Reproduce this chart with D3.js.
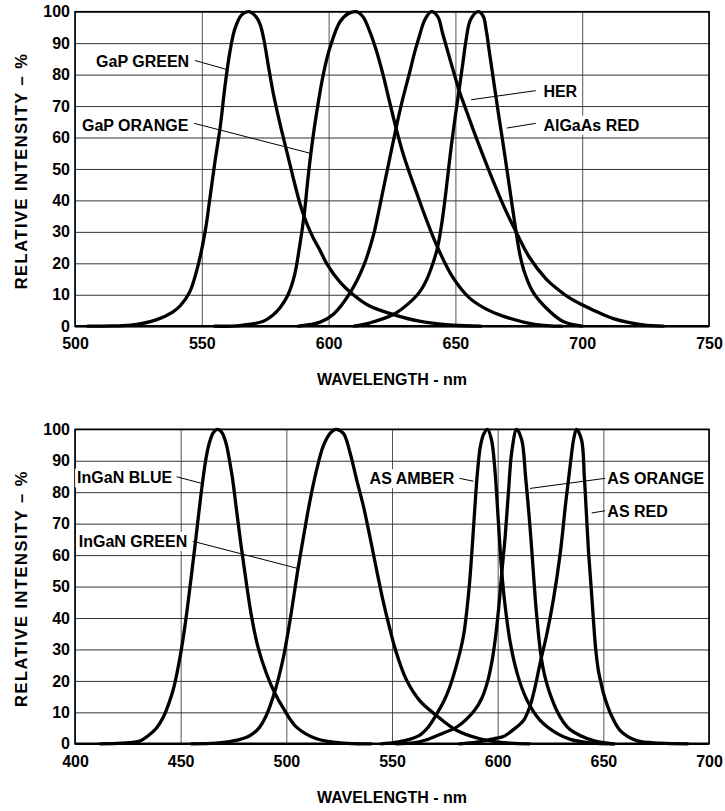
<!DOCTYPE html>
<html>
<head>
<meta charset="utf-8">
<script src="https://cdn.jsdelivr.net/npm/d3@7"></script>
<style>
  body { margin: 0; background: #fff; }
  text { font-family: "Liberation Sans", Arial, Helvetica, sans-serif; font-weight: bold; fill: #000; }
</style>
</head>
<body>
<svg id="chart" width="725" height="811"></svg>
<script>
// tick values
var yTicks = [0, 10, 20, 30, 40, 50, 60, 70, 80, 90, 100];
var topTicks = [500, 550, 600, 650, 700, 750];
var bottomTicks = [400, 450, 500, 550, 600, 650, 700];

// spectra: [wavelength nm, relative intensity %]
var gapGreen = [[505,0],[515,0.1],[523,0.4],[532,2],[538.5,4.5],[541.5,6.5],[545.3,11],[548.6,19.6],[551.3,30],[553.2,40.7],[555.2,52.4],[557.2,63],[559.2,76.7],[561.1,87.3],[563.1,94.7],[565.7,99],[568.4,100],[571.2,98.6],[573,96],[574.5,91],[576.2,83],[578.2,74],[580.8,64.5],[583.5,55.6],[586.1,47],[588.7,39],[590.3,35],[592,31.5],[594,28],[596.7,24],[599.2,20],[604.5,14],[609,10.5],[616,6.5],[625.6,3.7],[635.8,1.6],[649,0.3],[660,0]];
var gapOrange = [[555,0],[565,0.2],[574.3,1.6],[578,3.5],[581,6],[584,10],[586.5,16],[588.5,25],[590.3,35],[592,48],[593.5,58],[595.3,68],[597.9,80],[600.5,88.5],[604.5,96.8],[608,99.5],[611,100],[613.5,98.5],[616.1,94],[618.7,88],[621.3,80.5],[624,71.5],[626.6,63],[629.5,54.5],[632,48.5],[634,44],[638.5,34],[643,25],[649,15.5],[655.5,9],[662,5.5],[668.7,3.2],[681.8,0.5],[692,0]];
var her = [[588,0],[596.7,1.3],[602,3.9],[608.5,10.7],[613.8,19.2],[617.7,29],[619.5,35.5],[621.3,42.5],[624,53],[626.6,63],[629.3,72.5],[631.9,80.5],[634,87.3],[635.8,92.3],[638,97.5],[640.5,100],[643,98.5],[645,93],[648,84.5],[651.6,74.6],[654.2,68.8],[656.8,63],[660.8,54.5],[666,44],[670,36.5],[673.9,30],[679.1,22],[685.8,15],[690,12],[695,9],[700,6.8],[704.4,5.1],[712.3,2.4],[724,0.4],[732,0]];
var algaasRed = [[610,0],[616,1],[625.5,3.7],[633,8.3],[636,11],[638.5,14.5],[640.5,18.5],[642.8,24.5],[644.5,32],[646,41],[647.3,50],[648.5,58],[650,67],[651.6,76],[653,84],[654.2,91],[656,97.5],[659,100],[661,98.5],[662.1,94.4],[663.4,87.2],[664.7,80],[666,72.9],[667.3,65.8],[668.7,58.6],[670,51.5],[671.3,44.4],[672.6,37.2],[673.9,30.2],[675.5,22.5],[677.5,16.5],[680.5,11],[685.8,5.8],[692.3,1.6],[700,0]];

var inganBlue = [[412,0],[422,0.2],[430.7,0.9],[434.9,2.7],[438.6,5],[441.8,8.5],[444.5,13],[446.8,18],[450,28.7],[452.4,39.3],[454.8,52],[457.1,64.8],[459.5,78.6],[461.8,90],[463.5,95.5],[465.5,99],[467.5,100],[469.5,99],[471.5,95.5],[473,90.5],[474.5,84.5],[476.3,75],[478.6,63],[481,51.5],[483.4,41],[486.5,31],[490.5,22.5],[494.4,16.3],[498.4,11.5],[504.8,5.3],[514.3,1.6],[527,0.2],[540,0]];
var inganGreen = [[455,0],[466.7,0.2],[474.8,0.9],[482.5,2.5],[487,5],[490.5,9],[494.4,16.3],[498.4,26.8],[501.6,38.6],[504,49],[505.6,56],[507.9,65],[511.1,77],[514.3,87],[517.5,94.7],[520.7,98.7],[523.5,100],[527,98.7],[530.2,92.4],[533.3,83.9],[536.5,75.5],[539.5,66],[542.4,56.3],[545.6,46],[548.7,37.3],[551.9,29.3],[556.7,20.5],[563,13.8],[571,9],[580.5,4.3],[591.6,1.6],[605.9,0.2],[615,0]];
var asAmber = [[545,0],[548.7,0.2],[556,1],[563,2.7],[567,5.2],[571,9.3],[574.5,13.5],[577.3,18],[582.1,29],[584,35],[585.5,43],[586.8,52],[588,63],[589.2,75],[590.4,86],[591.8,94.5],[593.4,98.5],[595.2,100],[597.1,96.6],[598.7,87],[600.3,71],[601.9,55],[603.5,44],[606,32],[609.4,22],[613.8,14],[620,7.5],[628,3.3],[634.4,1.4],[645,0.2],[655,0]];
var asOrange = [[552,0],[560,0.3],[566,1.2],[572,2.8],[581,5.5],[589,10.6],[592.5,14.5],[595.5,20.5],[597.5,27],[599,34],[600.6,44],[601.9,54],[603.5,65.5],[605.1,80],[606.7,93],[609,100],[611.4,96.6],[613.2,85],[614.8,73],[616.2,61],[617.8,46],[619,37],[620.2,29.5],[621.5,24],[623.3,19],[625.5,14.5],[628,10.5],[631,7],[634.3,4.5],[645.3,1],[655,0]];
var asRed = [[582,0],[590,0.5],[598,1.6],[602.7,2.3],[607.4,4.5],[612.2,7.4],[615.3,12],[617.5,17.5],[620.2,26],[623.3,35],[626.4,46],[629.6,60.5],[632.1,76],[634.4,89],[636,97],[637.3,100],[639.7,96.6],[641,85],[642,73],[643,61],[644.2,50],[645.3,39.5],[646.4,30],[647.6,23.5],[649,19],[650.3,15.5],[652,12],[653.5,9.5],[658,4.2],[665.8,1],[676.8,0.2],[690,0]];

// curve labels, anchored in data units: text x/y, then leader x1,y1,x2,y2
var topNotes = [
  {text: "GaP GREEN",  anchor: "end",   x: 545.0, y: 84.3, lead: [547.3, 84.5, 559.5, 81.7]},
  {text: "GaP ORANGE", anchor: "end",   x: 544.7, y: 64.0, lead: [547.0, 64.5, 592.7, 55.0]},
  {text: "HER",        anchor: "start", x: 684.7, y: 74.6, lead: [681.7, 74.9, 656.2, 72.0]},
  {text: "AlGaAs RED", anchor: "start", x: 684.7, y: 64.0, lead: [681.7, 64.5, 670.2, 63.0]}
];
var bottomNotes = [
  {text: "InGaN BLUE",  anchor: "end",   x: 446.0, y: 84.6, lead: [448.1, 84.9, 460.0, 82.8]},
  {text: "InGaN GREEN", anchor: "end",   x: 453.1, y: 64.4, lead: [455.7, 64.4, 505.7, 55.7]},
  {text: "AS AMBER",    anchor: "end",   x: 579.5, y: 84.4, lead: [581.9, 84.4, 588.5, 83.5]},
  {text: "AS ORANGE",   anchor: "start", x: 651.9, y: 84.4, lead: [650.8, 84.4, 615.3, 81.2]},
  {text: "AS RED",      anchor: "start", x: 651.9, y: 74.0, lead: [650.8, 74.1, 644.5, 73.4]}
];

var svg = d3.select("#chart");
var left = 75, right = 709, plotH = 314.5;

var panels = [
  {top: 11.7,  domain: [500, 750], ticks: topTicks,    curves: [gapGreen, gapOrange, her, algaasRed],           notes: topNotes},
  {top: 429.3, domain: [400, 700], ticks: bottomTicks, curves: [inganBlue, inganGreen, asAmber, asOrange, asRed], notes: bottomNotes}
];

panels.forEach(function(p){
  var x = d3.scaleLinear().domain(p.domain).range([left, right]);
  var y = d3.scaleLinear().domain([0, 100]).range([p.top + plotH, p.top]);
  var g = svg.append("g");

  // x axis with vertical grid
  g.append("g")
    .attr("transform", "translate(0," + y(0) + ")")
    .call(d3.axisBottom(x).tickValues(p.ticks).tickSize(-plotH).tickPadding(11.5).tickFormat(d3.format("d")))
    .attr("font-size", 16).attr("font-family", null)
    .call(function(a){ a.select(".domain").remove(); })
    .call(function(a){ a.selectAll(".tick line").attr("stroke", "#555").attr("stroke-width", 1); });

  // y axis with horizontal grid
  g.append("g")
    .attr("transform", "translate(" + left + ",0)")
    .call(d3.axisLeft(y).tickValues(yTicks).tickSize(-(right - left)).tickPadding(5))
    .attr("font-size", 16).attr("font-family", null)
    .call(function(a){ a.select(".domain").remove(); })
    .call(function(a){ a.selectAll(".tick line").attr("stroke", "#333").attr("stroke-width", 1); });

  // spectra
  var line = d3.line()
    .x(function(d){ return x(d[0]); })
    .y(function(d){ return y(d[1]); })
    .curve(d3.curveCatmullRom.alpha(0.5));

  g.selectAll("path.spec")
    .data(p.curves)
  .enter().append("path")
    .attr("class", "spec")
    .attr("d", line)
    .attr("fill", "none")
    .attr("stroke", "#000")
    .attr("stroke-width", 3.3)
    .attr("stroke-linejoin", "round")
    .attr("stroke-linecap", "round");

  // frame
  g.append("rect")
    .attr("x", left).attr("y", y(100))
    .attr("width", right - left).attr("height", y(0) - y(100))
    .attr("fill", "none").attr("stroke", "#000").attr("stroke-width", 1.6);
  g.append("line")
    .attr("x1", left).attr("x2", right)
    .attr("y1", y(0)).attr("y2", y(0))
    .attr("stroke", "#000").attr("stroke-width", 2.6);

  // labels and leaders
  p.notes.forEach(function(n){
    var t = g.append("text")
      .attr("x", x(n.x)).attr("y", y(n.y))
      .attr("dy", "0.36em")
      .attr("text-anchor", n.anchor)
      .attr("font-size", 16)
      .text(n.text);
    var b = t.node().getBBox();
    g.insert("rect", function(){ return t.node(); })
      .attr("x", b.x - 2).attr("y", b.y - 1)
      .attr("width", b.width + 4).attr("height", b.height + 2)
      .attr("fill", "#fff");
    g.append("line")
      .attr("x1", x(n.lead[0])).attr("y1", y(n.lead[1]))
      .attr("x2", x(n.lead[2])).attr("y2", y(n.lead[3]))
      .attr("stroke", "#000").attr("stroke-width", 1);
  });

  // axis titles
  g.append("text")
    .attr("x", (left + right) / 2).attr("y", y(0) + 59)
    .attr("text-anchor", "middle")
    .attr("font-size", 16)
    .text("WAVELENGTH - nm");
  g.append("text")
    .attr("transform", "translate(27," + (y(50) + 2) + ") rotate(-90)")
    .attr("text-anchor", "middle")
    .attr("font-size", 16.5)
    .attr("letter-spacing", 1.5)
    .text("RELATIVE INTENSITY \u2013 %");
});
</script>
</body>
</html>
